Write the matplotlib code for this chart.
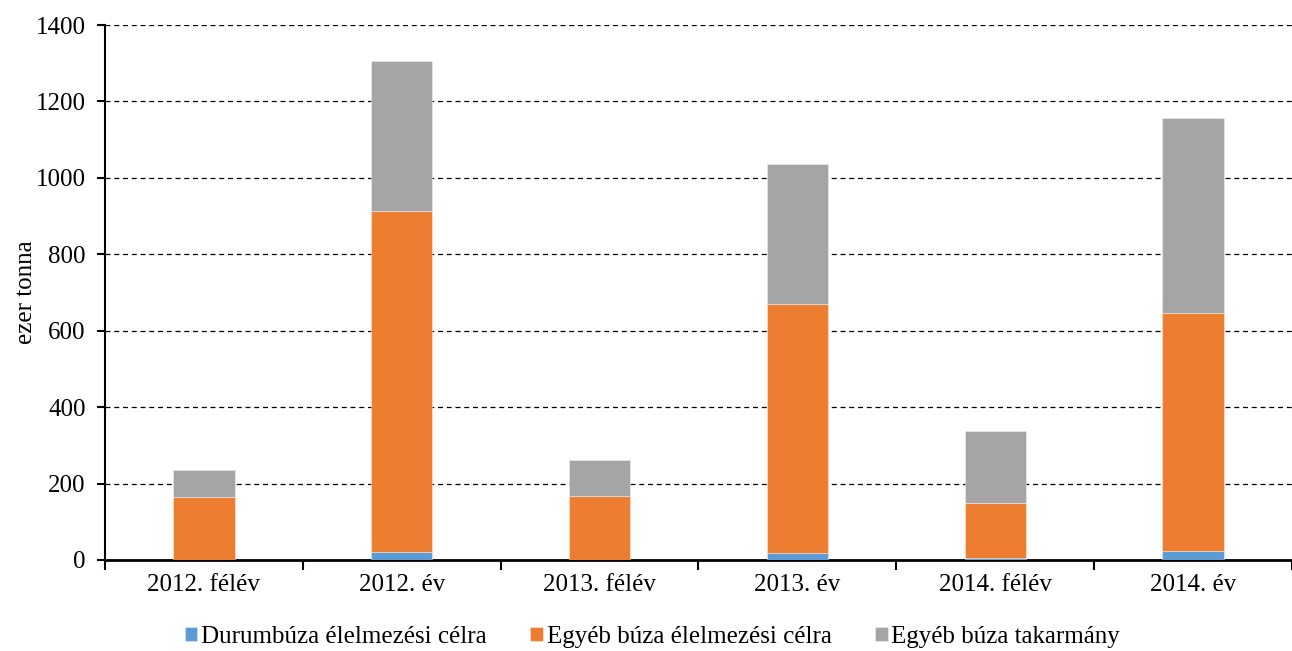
import matplotlib
matplotlib.use("Agg")
import matplotlib.pyplot as plt
import numpy as np

categories = ["2012. félév", "2012. év", "2013. félév", "2013. év", "2014. félév", "2014. év"]
durum = [0, 22, 0, 18, 4, 24]
egyeb_elelm = [164, 892, 167, 652, 146, 622]
takarmany = [71, 393, 95, 366, 187, 511]
series_names = ["Durumbúza élelmezési célra", "Egyéb búza élelmezési célra", "Egyéb búza takarmány"]
colors = ["#5B9BD5", "#ED7D31", "#A5A5A5"]

plt.rcParams['font.family'] = ['Liberation Serif', 'DejaVu Serif']

fig = plt.figure(figsize=(12.92, 6.51), dpi=100)
ax = fig.add_axes([105/1292, 1-560/651, 1-105/1292, 535/651])

x = np.arange(len(categories))
w = 0.31
bottom = np.zeros(len(categories))
for vals, name, c in zip([durum, egyeb_elelm, takarmany], series_names, colors):
    ax.bar(x, vals, w, bottom=bottom, color=c, label=name, edgecolor=(1, 1, 1, 0.35), linewidth=0.8, zorder=3)
    bottom += np.array(vals)

ax.set_ylim(0, 1400)
ax.set_yticks(np.arange(0, 1401, 200))
ax.set_xlim(-0.5, 5.5 - 7/199)
ax.set_xticks(x)
ax.set_xticklabels(categories)
ax.set_xticks(np.arange(-0.5, 5.6, 1), minor=True)
ax.tick_params(axis='x', which='major', length=0, pad=10, labelsize=18)
ax.tick_params(axis='x', which='minor', length=7, width=1.5, direction='out')
ax.tick_params(axis='y', length=6, width=1.5, direction='out', labelsize=18, pad=8)
ax.yaxis.grid(True, linestyle=(0, (4, 3)), color='black', linewidth=0.9, zorder=0)
ax.set_axisbelow(True)
for s in ['top', 'right']:
    ax.spines[s].set_visible(False)
ax.spines['left'].set_linewidth(1.5)
ax.spines['bottom'].set_linewidth(2)
ax.set_ylabel("ezer tonna", fontsize=18)
ax.yaxis.set_label_coords(-68/1187, 0.5)

fig.legend(loc='center', bbox_to_anchor=(0.505, 1-637/651), ncol=3, frameon=False,
           fontsize=18, handlelength=0.5, handleheight=0.5, handletextpad=0.15,
           columnspacing=1.75)

fig.savefig("out.png", dpi=100)
